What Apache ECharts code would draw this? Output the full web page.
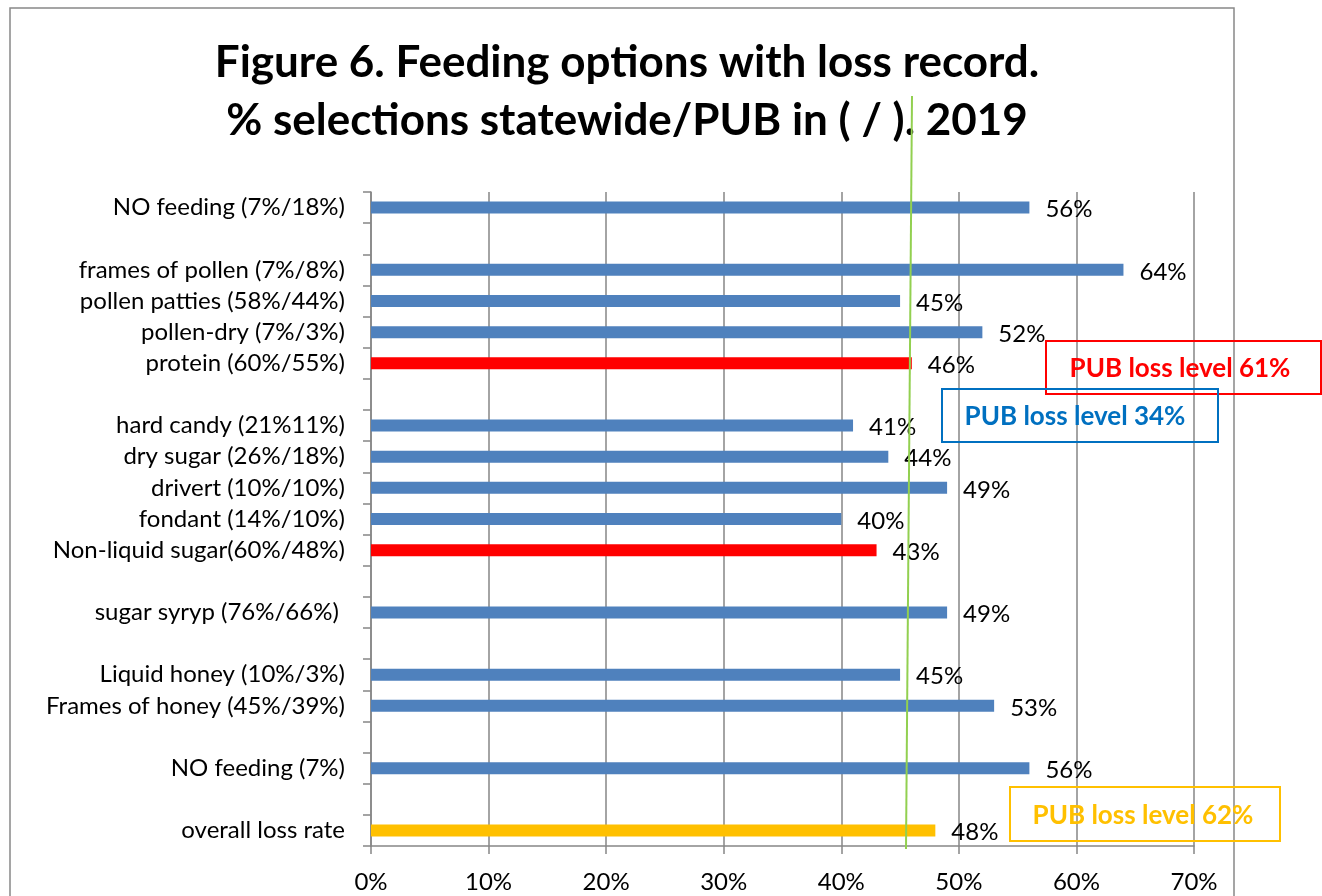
<!DOCTYPE html>
<html>
<head>
<meta charset="utf-8">
<title>Figure 6</title>
<script src="https://cdn.jsdelivr.net/npm/echarts@6/dist/echarts.min.js"></script>
<style>
  html, body { margin: 0; padding: 0; background: #fff; }
  #main { width: 1322px; height: 896px; }
</style>
</head>
<body>
<div id="main"></div>
<script>
// rows from top to bottom, blank rows are gaps between groups
const categories = [
  'NO feeding (7%/18%)', '',
  'frames of pollen (7%/8%)', 'pollen patties (58%/44%)', 'pollen-dry (7%/3%)', 'protein (60%/55%)', '',
  'hard candy (21%11%)', 'dry sugar (26%/18%)', 'drivert (10%/10%)', 'fondant (14%/10%)', 'Non-liquid sugar(60%/48%)', '',
  'sugar syryp (76%/66%) ', '',
  'Liquid honey (10%/3%)', 'Frames of honey (45%/39%)', '',
  'NO feeding (7%)', '',
  'overall loss rate'
]
const lossRate = [56, null, 64, 45, 52, 46, null, 41, 44, 49, 40, 43, null, 49, null, 45, 53, null, 56, null, 48]
const redRows = ['protein (60%/55%)', 'Non-liquid sugar(60%/48%)']
const goldRows = ['overall loss rate']
const xMin = 0
const xMax = 70
const xStep = 10

const FONT = 'Lato'

const chart = echarts.init(document.getElementById('main'))
chart.setOption({
  animation: false,
  textStyle: { fontFamily: FONT },
  title: {
    text: 'Figure 6. Feeding options with loss record.\n% selections statewide/PUB in ( / ). 2019',
    left: 622,
    top: 29,
    textAlign: 'center',
    textStyle: { fontSize: 44, fontWeight: 'bold', color: '#000', lineHeight: 58, fontFamily: FONT }
  },
  grid: { left: 371, top: 192, width: 823, height: 654, containLabel: false },
  xAxis: {
    type: 'value',
    min: xMin,
    max: xMax,
    interval: xStep,
    axisLine: { show: true, lineStyle: { color: '#868686', width: 1.5 } },
    axisTick: { show: true, length: 8, lineStyle: { color: '#868686', width: 1.5 } },
    splitLine: { show: true, lineStyle: { color: '#868686', width: 1.5 } },
    axisLabel: { formatter: '{value}%', fontSize: 24, color: '#000', margin: 24, fontFamily: FONT }
  },
  yAxis: {
    type: 'category',
    inverse: true,
    data: categories,
    axisLine: { show: true, lineStyle: { color: '#868686', width: 1.5 } },
    axisTick: { show: true, length: 8, alignWithLabel: false, lineStyle: { color: '#868686', width: 1.5 } },
    axisLabel: { fontSize: 24, color: '#000', margin: 26, interval: 0, fontFamily: FONT }
  },
  series: [
    {
      name: 'loss',
      type: 'bar',
      barWidth: 12,
      data: lossRate,
      itemStyle: {
        color: p => redRows.includes(p.name) ? '#FF0000' : (goldRows.includes(p.name) ? '#FFC000' : '#4F81BD')
      },
      label: {
        show: true,
        position: 'right',
        distance: 16,
        offset: [0, 2],
        formatter: '{c}%',
        fontSize: 24,
        color: '#000',
        fontFamily: FONT
      }
    }
  ],
  graphic: [
    { type: 'rect', z: 100, silent: true, shape: { x: 10, y: 8, width: 1224, height: 900 }, style: { fill: 'none', stroke: '#888', lineWidth: 1.5 } },
    { type: 'line', z: 100, silent: true, shape: { x1: 912, y1: 96, x2: 906, y2: 849 }, style: { stroke: '#92D050', lineWidth: 2 } },
    { type: 'rect', z: 100, silent: true, shape: { x: 1046, y: 341, width: 275, height: 53 }, style: { fill: 'none', stroke: '#FF0000', lineWidth: 2 } },
    { type: 'text', z: 101, silent: true, x: 1180, y: 369, style: { text: 'PUB loss level 61%', fill: '#FF0000', font: 'bold 26px ' + FONT, align: 'center', verticalAlign: 'middle' } },
    { type: 'rect', z: 100, silent: true, shape: { x: 942, y: 389, width: 276, height: 53 }, style: { fill: 'none', stroke: '#0070C0', lineWidth: 2 } },
    { type: 'text', z: 101, silent: true, x: 1075, y: 417, style: { text: 'PUB loss level 34%', fill: '#0070C0', font: 'bold 26px ' + FONT, align: 'center', verticalAlign: 'middle' } },
    { type: 'rect', z: 100, silent: true, shape: { x: 1010, y: 787, width: 270, height: 54 }, style: { fill: 'none', stroke: '#FFC000', lineWidth: 2 } },
    { type: 'text', z: 101, silent: true, x: 1143, y: 816, style: { text: 'PUB loss level 62%', fill: '#FFC000', font: 'bold 26px ' + FONT, align: 'center', verticalAlign: 'middle' } }
  ]
})
</script>
</body>
</html>
